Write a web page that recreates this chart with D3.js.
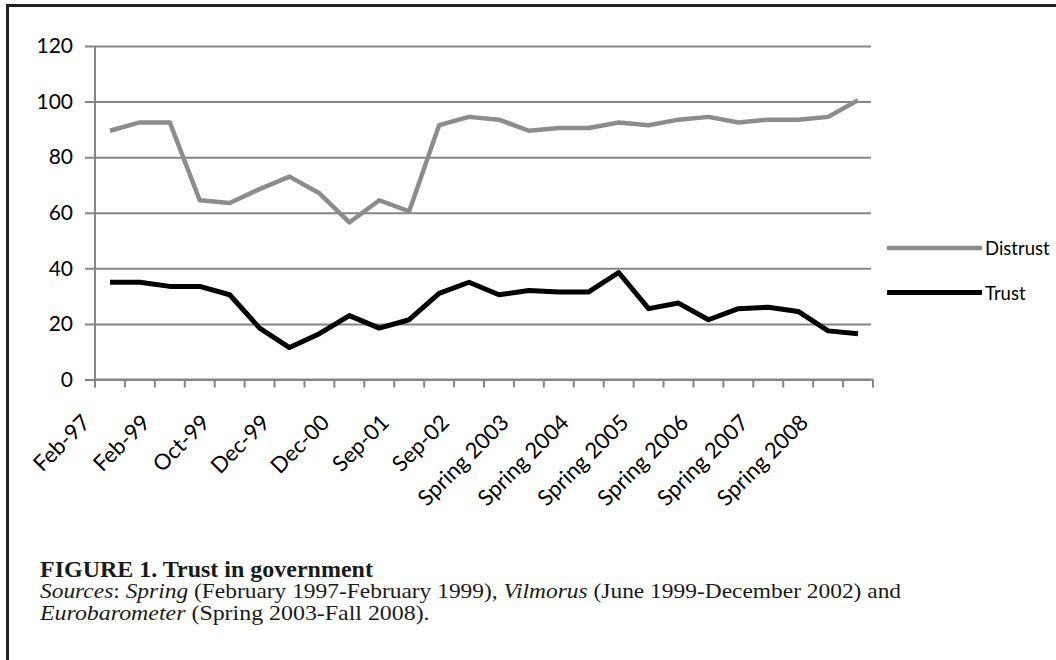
<!DOCTYPE html>
<html>
<head>
<meta charset="utf-8">
<script src="https://cdn.jsdelivr.net/npm/d3@7"></script>
<style>
  html, body { margin: 0; padding: 0; background: #fff; }
  svg { display: block; }
</style>
</head>
<body>
<svg id="chart" width="1056" height="660"></svg>
<script>
// ---- Data ----
const categories = [
  "Feb-97", "Feb-98", "Feb-99", "Jun-99", "Oct-99", "Nov-99", "Dec-99", "Jun-00",
  "Dec-00", "Mar-01", "Sep-01", "Mar-02", "Sep-02", "Dec-02",
  "Spring 2003", "Fall 2003", "Spring 2004", "Fall 2004", "Spring 2005", "Fall 2005",
  "Spring 2006", "Fall 2006", "Spring 2007", "Fall 2007", "Spring 2008", "Fall 2008"
];
const distrust = [89.5, 92.5, 92.5, 64.5, 63.5, 68.5, 73, 67, 56.5, 64.5, 60.5, 91.5, 94.5, 93.5,
                  89.5, 90.5, 90.5, 92.5, 91.5, 93.5, 94.5, 92.5, 93.5, 93.5, 94.5, 100.5];
const trust = [35, 35, 33.5, 33.5, 30.5, 18.5, 11.5, 16.5, 23, 18.5, 21.5, 31, 35, 30.5,
               32, 31.5, 31.5, 38.5, 25.5, 27.5, 21.5, 25.5, 26, 24.5, 17.5, 16.5];
const yTicks = [0, 20, 40, 60, 80, 100, 120];
const shownLabels = ["Feb-97", "Feb-99", "Oct-99", "Dec-99", "Dec-00", "Sep-01", "Sep-02",
  "Spring 2003", "Spring 2004", "Spring 2005", "Spring 2006", "Spring 2007", "Spring 2008"];
const seriesNames = ["Distrust", "Trust"];

// ---- Layout ----
const svg = d3.select("#chart");
const plot = { left: 95, right: 873, top: 46, bottom: 379.5 };
const gridColor = "#858585";
const colors = { Distrust: "#8c8c8c", Trust: "#000000" };

const x = d3.scaleBand().domain(categories).range([plot.left, plot.right]).padding(0);
const y = d3.scaleLinear().domain([0, 120]).range([plot.bottom, plot.top]);
const cx = c => x(c) + x.bandwidth() / 2;

// Frame (left & top edges of the figure box)
svg.append("path")
  .attr("d", "M7.5,660 V5.5 H1056")
  .attr("fill", "none").attr("stroke", "#222").attr("stroke-width", 3);

// Gridlines + y labels
const yAxis = d3.axisLeft(y).tickValues(yTicks).tickSize(-(plot.right - plot.left)).tickPadding(12);
const gy = svg.append("g").attr("transform", `translate(${plot.left},0)`).call(yAxis);
gy.select(".domain").remove();
gy.selectAll(".tick line")
  .attr("x1", -10)
  .attr("x2", plot.right - plot.left - 2)
  .attr("stroke", gridColor).attr("stroke-width", 2);
gy.selectAll(".tick text")
  .attr("x", -22)
  .attr("font-family", "Lato, 'Open Sans', sans-serif")
  .attr("font-size", 21)
  .attr("fill", "#000");

// Y axis line
svg.append("line")
  .attr("x1", plot.left).attr("x2", plot.left)
  .attr("y1", y(120)).attr("y2", y(0) + 8)
  .attr("stroke", gridColor).attr("stroke-width", 2);

// X axis tick marks at category boundaries
const boundaries = categories.map(c => x(c)).concat([x(categories[categories.length - 1]) + x.bandwidth()]);
svg.append("g").selectAll("line").data(boundaries).join("line")
  .attr("x1", d => d).attr("x2", d => d)
  .attr("y1", y(0)).attr("y2", y(0) + 8)
  .attr("stroke", gridColor).attr("stroke-width", 2);
svg.append("line")
  .attr("x1", plot.left).attr("x2", plot.right)
  .attr("y1", y(0)).attr("y2", y(0))
  .attr("stroke", gridColor).attr("stroke-width", 2);

// X labels (rotated)
svg.append("g").selectAll("text").data(shownLabels).join("text")
  .attr("transform", d => `translate(${cx(d) - 24},${y(0) + 39}) rotate(-45)`)
  .attr("text-anchor", "end")
  .attr("dy", "0.35em")
  .attr("font-family", "Lato, 'Open Sans', sans-serif")
  .attr("font-size", 22)
  .attr("fill", "#000")
  .text(d => d);

// Lines
const line = d3.line().x((d, i) => cx(categories[i])).y(d => y(d)).curve(d3.curveLinear);
svg.append("path").datum(distrust)
  .attr("d", line).attr("fill", "none")
  .attr("stroke", colors.Distrust).attr("stroke-width", 4.5)
  .attr("stroke-linejoin", "round");
svg.append("path").datum(trust)
  .attr("d", line).attr("fill", "none")
  .attr("stroke", colors.Trust).attr("stroke-width", 5)
  .attr("stroke-linejoin", "round");

// Legend
const legendY = { Distrust: 248, Trust: 292.5 };
const lg = svg.append("g");
seriesNames.forEach(name => {
  lg.append("line")
    .attr("x1", 887).attr("x2", 982)
    .attr("y1", legendY[name]).attr("y2", legendY[name])
    .attr("stroke", colors[name]).attr("stroke-width", name === "Trust" ? 5 : 4.5);
  lg.append("text")
    .attr("x", 985).attr("y", legendY[name] + 1)
    .attr("dy", "0.35em")
    .attr("font-family", "Lato, 'Open Sans', sans-serif")
    .attr("font-size", 18.5)
    .attr("fill", "#000")
    .text(name);
});

// Caption
function fitWidth(sel, x0, target) {
  const w = sel.node().getComputedTextLength();
  sel.attr("transform", `translate(${x0},0) scale(${target / w},1) translate(${-x0},0)`);
}
const serif = "'Liberation Serif', 'Times New Roman', serif";
const title = svg.append("text")
  .attr("x", 40).attr("y", 577)
  .attr("font-family", serif).attr("font-weight", "bold").attr("font-size", 22.5)
  .attr("fill", "#1a1a1a")
  .text("FIGURE 1. Trust in government");
fitWidth(title, 40, 333);

const src1 = svg.append("text")
  .attr("x", 40).attr("y", 598.5)
  .attr("font-family", serif).attr("font-size", 20).attr("fill", "#1a1a1a");
src1.append("tspan").attr("font-style", "italic").text("Sources");
src1.append("tspan").text(": ");
src1.append("tspan").attr("font-style", "italic").text("Spring");
src1.append("tspan").text(" (February 1997-February 1999), ");
src1.append("tspan").attr("font-style", "italic").text("Vilmorus");
src1.append("tspan").text(" (June 1999-December 2002) and");
fitWidth(src1, 40, 862);

const src2 = svg.append("text")
  .attr("x", 40).attr("y", 620)
  .attr("font-family", serif).attr("font-size", 20).attr("fill", "#1a1a1a");
src2.append("tspan").attr("font-style", "italic").text("Eurobarometer");
src2.append("tspan").text(" (Spring 2003-Fall 2008).");
fitWidth(src2, 40, 390);
</script>
</body>
</html>
